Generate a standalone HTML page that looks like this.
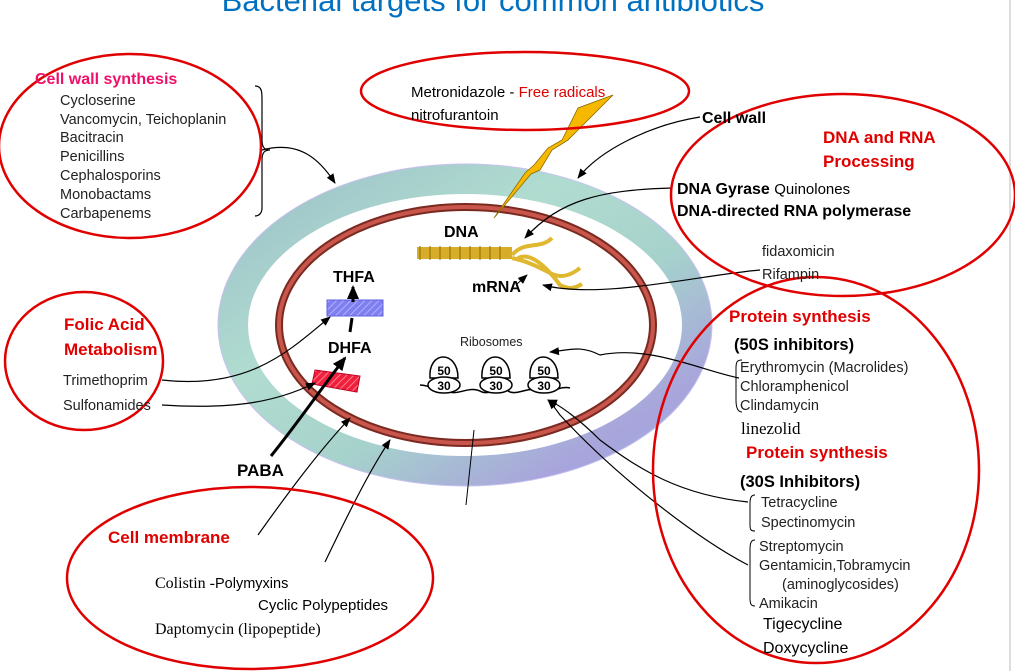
<!DOCTYPE html>
<html><head><meta charset="utf-8"><style>
html,body{margin:0;padding:0;background:#fff;width:1015px;height:671px;overflow:hidden}
svg{display:block}
text{font-family:"Liberation Sans",sans-serif}
.b{font-weight:bold}
.s{font-size:14.5px;fill:#222}
.r{fill:#e00000}
</style></head><body>
<svg width="1015" height="671" viewBox="0 0 1015 671" xmlns="http://www.w3.org/2000/svg">
<defs>
<marker id="a" markerWidth="10" markerHeight="8" refX="9" refY="4" orient="auto" markerUnits="userSpaceOnUse"><path d="M0,0 L10,4 L0,8 Z" fill="#000"/></marker>
<marker id="ab" markerWidth="14" markerHeight="12" refX="12" refY="6" orient="auto" markerUnits="userSpaceOnUse"><path d="M0,0 L14,6 L0,12 Z" fill="#000"/></marker>
<linearGradient id="ring" x1="0" y1="0" x2="1" y2="1">
<stop offset="0" stop-color="#9cc0c8"/><stop offset="0.35" stop-color="#b0dcd0"/><stop offset="0.6" stop-color="#a6d2cc"/><stop offset="0.85" stop-color="#a8a4dc"/><stop offset="1" stop-color="#9cb4dc"/></linearGradient>
<pattern id="h1" width="5" height="5" patternUnits="userSpaceOnUse" patternTransform="rotate(45)"><rect width="5" height="5" fill="#7f7ff0"/><line x1="0" y1="0" x2="0" y2="5" stroke="#b0b0ff" stroke-width="2"/></pattern>
<pattern id="h2" width="5" height="5" patternUnits="userSpaceOnUse" patternTransform="rotate(45)"><rect width="5" height="5" fill="#f0203c"/><line x1="0" y1="0" x2="0" y2="5" stroke="#ff8090" stroke-width="2"/></pattern>
</defs>
<line x1="1010" y1="0" x2="1010" y2="671" stroke="#ddd" stroke-width="2"/>
<text x="493" y="11" text-anchor="middle" font-size="31" fill="#0070c0">Bacterial targets for common antibiotics</text>

<ellipse cx="465" cy="325" rx="232" ry="146" fill="none" stroke="url(#ring)" stroke-width="30"/>
<ellipse cx="465" cy="325" rx="247" ry="161" fill="none" stroke="#c8c0f0" stroke-width="1"/>
<ellipse cx="466" cy="325" rx="187" ry="118" fill="#fff" stroke="#7a2a20" stroke-width="8"/>
<ellipse cx="466" cy="325" rx="187" ry="118" fill="none" stroke="#c8564c" stroke-width="4"/>

<path d="M613,95 L578,108 L562,140 L548,148 L534,165 L525,173 L494,218 L531,174 L540,170 L552,150 L568,140 Z" fill="#f7b800" stroke="#8a6a00" stroke-width="0.8"/>

<rect x="417" y="247" width="95" height="12" fill="#d6ac28"/>
<g stroke="#8a6a00" stroke-width="1">
<line x1="420" y1="246" x2="420" y2="260"/><line x1="430" y1="246" x2="430" y2="260"/><line x1="440" y1="246" x2="440" y2="260"/><line x1="450" y1="246" x2="450" y2="260"/><line x1="460" y1="246" x2="460" y2="260"/><line x1="470" y1="246" x2="470" y2="260"/><line x1="480" y1="246" x2="480" y2="260"/><line x1="490" y1="246" x2="490" y2="260"/><line x1="500" y1="246" x2="500" y2="260"/>
</g>
<path d="M512,255 C525,240 540,250 552,238 M512,258 C530,262 540,268 548,272 C555,276 565,280 580,268 M518,258 C530,252 545,265 560,285 C570,290 575,288 582,284" fill="none" stroke="#e0b830" stroke-width="4"/>

<text x="444" y="237" class="b" font-size="16">DNA</text>
<text x="472" y="292" class="b" font-size="16">mRNA</text>
<line x1="517" y1="284" x2="527" y2="275" stroke="#000" marker-end="url(#a)"/>
<text x="333" y="282" class="b" font-size="16">THFA</text>
<text x="328" y="353" class="b" font-size="16">DHFA</text>
<text x="237" y="476" class="b" font-size="17">PABA</text>
<rect x="327" y="300" width="56" height="16" fill="url(#h1)" stroke="#6060e0"/>
<path d="M315,370 L360,376 L357,392 L312,384 Z" fill="url(#h2)" stroke="#c00020"/>
<line x1="353" y1="302" x2="353" y2="287" stroke="#000" stroke-width="3" marker-end="url(#ab)"/>
<line x1="350" y1="332" x2="352" y2="318" stroke="#000" stroke-width="3"/>
<path d="M271,456 C300,420 320,390 345,358" fill="none" stroke="#000" stroke-width="3" marker-end="url(#ab)"/>

<text x="460" y="346" font-size="12.5" fill="#222">Ribosomes</text>
<g fill="#fff" stroke="#000" stroke-width="1.5">
<path d="M420,385 C432,385 440,395 450,392 C460,395 470,385 482,392 C492,395 500,385 510,392 C520,395 530,385 540,392 C550,395 560,385 570,388"/>
<path d="M430,378 C428,350 458,350 458,378 Z"/><ellipse cx="444" cy="385" rx="16" ry="8"/>
<path d="M482,378 C480,350 510,350 510,378 Z"/><ellipse cx="496" cy="385" rx="16" ry="8"/>
<path d="M530,378 C528,350 558,350 558,378 Z"/><ellipse cx="544" cy="385" rx="16" ry="8"/>
</g>
<g class="b" font-size="12" text-anchor="middle"><text x="444" y="375">50</text><text x="444" y="390">30</text><text x="496" y="375">50</text><text x="496" y="390">30</text><text x="544" y="375">50</text><text x="544" y="390">30</text></g>

<g fill="none" stroke="#000" stroke-width="1.2" marker-end="url(#a)">
<path d="M262,150 C300,140 320,160 335,183"/>
<path d="M700,117 C650,125 600,150 578,178"/>
<path d="M672,188 C600,190 560,200 525,238"/>
<path d="M760,270 C700,275 600,300 543,285"/>
<path d="M162,380 C250,390 290,350 330,317"/>
<path d="M162,405 C240,410 280,400 315,383"/>
<path d="M739,378 C700,370 650,345 600,355 C580,345 570,350 550,352"/>
<path d="M748,502 C680,495 640,470 600,440 C580,420 560,405 548,400"/>
<path d="M748,565 C700,540 620,480 560,415 C555,408 550,402 548,400"/>
<path d="M258,535 C290,490 320,450 350,418"/>
<path d="M325,562 C350,510 370,470 390,440"/>
</g>
<path d="M466,505 L474,430" stroke="#000" stroke-width="1" fill="none"/>

<g fill="none" stroke="#e00000" stroke-width="2.5">
<ellipse cx="130" cy="146" rx="131" ry="92"/>
<ellipse cx="525" cy="91" rx="164" ry="39"/>
<ellipse cx="843" cy="195" rx="172" ry="101"/>
<ellipse cx="84" cy="361" rx="79" ry="69"/>
<ellipse cx="250" cy="578" rx="183" ry="91"/>
<ellipse cx="816" cy="470" rx="163" ry="193"/>
</g>

<text x="35" y="84" class="b" font-size="16" fill="#f0106a">Cell wall synthesis</text>
<g class="s"><text x="60" y="105">Cycloserine</text><text x="60" y="124">Vancomycin, Teichoplanin</text><text x="60" y="142">Bacitracin</text><text x="60" y="161">Penicillins</text><text x="60" y="180">Cephalosporins</text><text x="60" y="199">Monobactams</text><text x="60" y="218">Carbapenems</text></g>
<path d="M255,86 C262,86 262,92 262,100 L262,140 C262,148 265,150 270,150 C265,150 262,152 262,160 L262,208 C262,214 258,216 255,216" fill="none" stroke="#000" stroke-width="1.2"/>

<text x="411" y="97" font-size="15" fill="#000">Metronidazole - <tspan fill="#e00000">Free radicals</tspan></text>
<text x="411" y="120" font-size="15" fill="#000">nitrofurantoin</text>

<text x="702" y="123" class="b" font-size="16">Cell wall</text>
<text x="823" y="143" class="b r" font-size="17">DNA and RNA</text>
<text x="823" y="167" class="b r" font-size="17">Processing</text>
<text x="677" y="194" class="b" font-size="16">DNA Gyrase <tspan font-weight="normal" font-size="15">Quinolones</tspan></text>
<text x="677" y="216" class="b" font-size="16">DNA-directed RNA polymerase</text>
<text x="762" y="256" font-size="14.5" fill="#222">fidaxomicin</text>
<text x="762" y="279" font-size="14.5" fill="#222">Rifampin</text>

<text x="64" y="330" class="b r" font-size="17">Folic Acid</text>
<text x="64" y="355" class="b r" font-size="17">Metabolism</text>
<text x="63" y="385" class="s">Trimethoprim</text>
<text x="63" y="410" class="s">Sulfonamides</text>

<text x="108" y="543" class="b r" font-size="17">Cell membrane</text>
<text x="155" y="588" font-size="16" style="font-family:'Liberation Serif',serif">Colistin -<tspan font-size="14.5" style="font-family:'Liberation Sans',sans-serif">Polymyxins</tspan></text>
<text x="258" y="610" font-size="15">Cyclic Polypeptides</text>
<text x="155" y="634" font-size="16" style="font-family:'Liberation Serif',serif">Daptomycin (lipopeptide)</text>

<text x="729" y="322" class="b r" font-size="17">Protein synthesis</text>
<text x="734" y="350" class="b" font-size="16.5">(50S inhibitors)</text>
<g class="s"><text x="740" y="372">Erythromycin (Macrolides)</text><text x="740" y="391">Chloramphenicol</text><text x="740" y="410">Clindamycin</text></g>
<path d="M742,360 C737,360 736,362 736,368 L736,400 C736,406 737,412 742,412" fill="none" stroke="#000"/>
<text x="741" y="434" font-size="17" style="font-family:'Liberation Serif',serif">linezolid</text>
<text x="746" y="458" class="b r" font-size="17">Protein synthesis</text>
<text x="740" y="487" class="b" font-size="16.5">(30S Inhibitors)</text>
<g class="s"><text x="761" y="507">Tetracycline</text><text x="761" y="527">Spectinomycin</text><text x="759" y="551">Streptomycin</text><text x="759" y="570">Gentamicin,Tobramycin</text><text x="782" y="589">(aminoglycosides)</text><text x="759" y="608">Amikacin</text></g>
<path d="M755,495 C751,495 750,498 750,504 L750,525 C750,530 751,531 755,531" fill="none" stroke="#000"/>
<path d="M755,540 C751,540 750,543 750,550 L750,598 C750,604 751,606 755,606" fill="none" stroke="#000"/>
<text x="763" y="629" font-size="16" fill="#000">Tigecycline</text>
<text x="763" y="653" font-size="16" fill="#000">Doxycycline</text>
</svg>
</body></html>
